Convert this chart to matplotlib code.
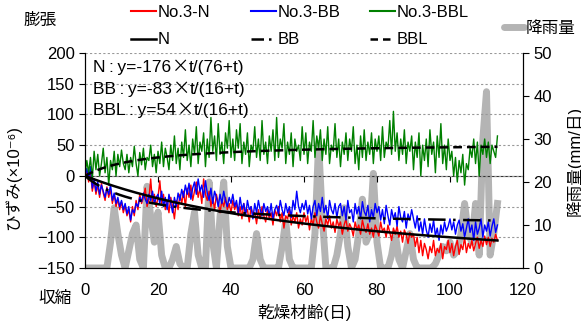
import numpy as np
import matplotlib
matplotlib.use("Agg")
import matplotlib.pyplot as plt
from matplotlib.lines import Line2D

plt.rcParams['font.family'] = ['Liberation Sans', 'Noto Sans CJK JP', 'DejaVu Sans']
plt.rcParams['font.size'] = 12

# measured strain, every half day from day 0 to day 113
step = 0.5
bbl = [0, 25, 5, 30, -5, 40, 10, 35, 0, 20, 45, 5, 30, -15, 25, 10, 40, 0, 35, 15,
       42, 20, 10, 35, 5, 30, 15, 48, 20, 0, 38, 18, 45, 10, 30, 25, 50, 15, 35, 5,
       40, 20, 55, 15, 45, 30, 10, 50, 25, 65, 20, 45, 10, 55, 30, 75, 25, 50, 15, 60,
       35, 80, 20, 55, 40, 70, 15, 60, 30, 95, 40, 65, 25, 85, 35, 55, 20, 70, 45, 90,
       30, 60, 25, 75, 45, 85, 20, 55, 35, 70, 15, 50, 40, 80, 30, 60, 25, 90, 35, 55,
       20, 65, 40, 75, 25, 95, 30, 60, 45, 85, 20, 55, 35, 70, 15, 60, 40, 50, 25, 80,
       35, 70, 20, 55, 40, 90, 30, 65, 45, 75, 25, 60, 35, 80, 20, 50, 40, 85, 30, 60,
       15, 55, 35, 70, 25, 60, 40, 80, 20, 50, 10, 65, 30, 75, 25, 55, 35, 70, 20, 60,
       40, 65, 25, 80, 30, 55, 45, 90, 35, 105, 40, 70, 25, 60, 35, 75, 20, 55, 40, 65,
       10, 55, 30, 70, 0, 50, 25, 60, 15, 75, 35, 55, 5, 65, 30, 85, 20, 50, 10, 60,
       25, 40, 0, 30, -10, 25, 5, 35, -15, 20, 10, 45, 30, 60, 20, 55, 0, 50, 35, 60,
       30, 55, 20, 50, 40, 30, 65]
n_data = [0, 8, -10, 5, -25, -8, -30, -15, -35, -12, -28, -40, -18, -35, -22, -45, -30, -50, -38, -55,
          -42, -60, -48, -65, -55, -75, -50, -65, -40, -55, -30, -45, -35, -20, -50, -38, -5, -45, -30, -50,
          -35, -8, -45, -30, -55, -40, -60, -35, -50, -70, -40, -55, -30, -45, -25, -50, -20, -35, -15, -40,
          -25, -10, -35, -20, -45, -5, -30, -40, -25, -50, -35, -55, -30, -45, -60, -40, -50, -35, -55, -45,
          -60, -40, -55, -45, -65, -50, -70, -45, -60, -55, -75, -50, -65, -60, -78, -55, -70, -50, -65, -75,
          -55, -70, -60, -80, -55, -65, -50, -75, -60, -85, -65, -70, -55, -80, -65, -75, -60, -85, -70, -80,
          -60, -75, -65, -88, -70, -80, -60, -75, -85, -65, -78, -90, -70, -80, -65, -85, -75, -92, -70, -82,
          -75, -95, -80, -70, -90, -78, -85, -98, -75, -88, -80, -95, -72, -85, -92, -78, -95, -85, -100, -80,
          -88, -98, -75, -90, -85, -100, -80, -92, -105, -85, -95, -82, -100, -90, -108, -88, -96, -110, -92, -100,
          -95, -115, -100, -125, -105, -130, -110, -120, -135, -115, -125, -105, -130, -118, -125, -110, -135, -115, -120, -105,
          -125, -110, -130, -115, -105, -128, -112, -120, -100, -125, -110, -118, -105, -122, -110, -100, -118, -105, -115, -98,
          -112, -100, -115, -102, -108, -95, -105]
bb = [0, 12, -5, 15, -20, -5, -25, -10, -30, -15, -25, -35, -20, -30, -15, -40, -28, -45, -35, -50,
      -40, -55, -45, -62, -50, -72, -55, -60, -45, -50, -35, -42, -28, -38, -45, -30, -40, -25, -45, -35,
      -30, -45, -25, -50, -35, -55, -30, -45, -60, -35, -50, -28, -40, -22, -35, -15, -30, -12, -38, -20,
      -10, -30, -5, -25, -15, -35, -8, -28, -40, -20, -45, -25, -35, -50, -30, -45, -25, -40, -50, -35,
      -45, -30, -50, -40, -60, -35, -55, -45, -65, -40, -55, -50, -70, -45, -60, -40, -55, -65, -45, -58,
      -50, -65, -45, -70, -55, -48, -62, -40, -55, -65, -45, -60, -50, -68, -40, -55, -25, -50, -60, -45,
      -55, -40, -62, -48, -70, -50, -40, -65, -45, -58, -35, -60, -48, -70, -40, -55, -62, -45, -68, -50,
      -45, -65, -50, -72, -40, -60, -55, -75, -45, -62, -50, -70, -42, -58, -65, -48, -75, -55, -68, -45,
      -60, -50, -72, -55, -78, -48, -65, -80, -55, -70, -60, -82, -50, -68, -75, -58, -85, -62, -72, -55,
      -70, -85, -65, -90, -75, -95, -70, -88, -100, -78, -92, -72, -98, -85, -105, -80, -95, -75, -90, -82,
      -70, -88, -75, -95, -80, -72, -90, -78, -100, -85, -70, -92, -80, -105, -75, -95, -85, -70, -100, -80,
      -90, -75, -98, -82, -70, -92, -80]

# daily rainfall (mm/day), day 0 .. 113
rain = [0, 0, 0, 0, 0, 0, 0, 6, 14, 8, 3, 0, 4, 8, 10, 2, 0, 19, 12, 6,
        13, 3, 0, 0, 2, 5, 1, 0, 0, 8, 13, 3, 0, 0, 20, 6, 0, 12, 20, 5,
        0, 0, 0, 0, 0, 0, 2, 8, 2, 0, 0, 0, 0, 0, 5, 11, 2, 0, 0, 0,
        0, 0, 0, 8, 29, 12, 0, 0, 0, 3, 8, 14, 5, 0, 2, 8, 16, 6, 8, 22,
        6, 0, 0, 0, 3, 8, 2, 0, 4, 8, 2, 0, 0, 0, 0, 0, 1, 3, 5, 4,
        6, 3, 4, 8, 15, 8, 6, 15, 3, 30, 41, 3, 8, 15]

# fitted curves y = a*t/(b+t)
fits = {"N": (-176, 76), "BB": (-83, 16), "BBL": (54, 16)}

t = np.arange(len(bbl)) * step
days = np.arange(len(rain))
tf = np.linspace(0, 113, 300)

fig = plt.figure(figsize=(5.81, 3.29), dpi=100)
ax = fig.add_axes([85/581, 1-268/329, 438/581, 215/329])
ax2 = ax.twinx()
ax.set_zorder(ax2.get_zorder() + 1)
ax.patch.set_visible(False)

# rainfall behind
ax2.plot(days, rain, color='#b4b4b4', lw=5, solid_joinstyle='round', zorder=1)
ax2.set_ylim(0, 50)
ax2.set_yticks(range(0, 51, 10))
ax2.tick_params(axis='y', direction='out', length=4.5, pad=3)
ax2.set_ylabel("降雨量(mm/日)")
ax2.yaxis.set_label_coords(1.097, 0.5)
ax2.spines['top'].set_visible(False)

ax.plot(t, n_data, color='red', lw=1)
ax.plot(t, bb, color='blue', lw=1)
ax.plot(t, bbl, color='green', lw=1)

a, b = fits["N"]
ax.plot(tf, a*tf/(b+tf), color='black', lw=1.8)
a, b = fits["BB"]
ax.plot(tf, a*tf/(b+tf), color='black', lw=1.8, dashes=(7, 3, 1, 3))
a, b = fits["BBL"]
ax.plot(tf, a*tf/(b+tf), color='black', lw=1.8, dashes=(3.5, 2))

ax.set_xlim(0, 120)
ax.set_ylim(-150, 200)
ax.set_xticks(range(0, 121, 20))
ax.set_yticks(range(-150, 201, 50))
ax.tick_params(axis='x', length=0, pad=11)
ax.tick_params(axis='y', direction='out', length=4.5, pad=3)
ax.spines['top'].set_visible(False)
ax.yaxis.grid(True, linestyle=(0, (2, 2)), color='#999999', lw=0.8)
ax.set_axisbelow(True)

zero = ax.secondary_xaxis(150/350)
zero.set_xticks(range(20, 101, 20))
zero.tick_params(direction='out', length=4, labelbottom=False)
zero.spines['bottom'].set_color('#333333')

ax.set_ylabel("ひずみ(×10⁻⁶)")
ax.yaxis.set_label_coords(-0.145, 0.42)
ax.set_xlabel("乾燥材齢(日)", labelpad=4)

# equations, the "×" in the Japanese font (wide)
renderer = fig.canvas.get_renderer()


def equation(y, left, right):
    x0 = 2.2
    t1 = ax.text(x0, y, left, va='baseline', ha='left', fontsize=12.5)
    w1 = t1.get_window_extent(renderer).width * 72 / fig.dpi
    t2 = ax.annotate("×", (x0, y), xytext=(w1 + 0.5, 0), textcoords='offset points',
                     va='baseline', ha='left', fontsize=12.5, family=['Noto Sans CJK JP'])
    w2 = t2.get_window_extent(renderer).width * 72 / fig.dpi
    ax.annotate(right, (x0, y), xytext=(w1 + w2 + 0.5, 0), textcoords='offset points',
                va='baseline', ha='left', fontsize=12.5)


equation(169, "N\u2009:\u2009y=-176", "t/(76+t)")
equation(134, "BB\u2009:\u2009y=-83", "t/(16+t)")
equation(98.5, "BBL\u2009:\u2009y=54", "t/(16+t)")

fig.text(40/581, 1-20/329, "膨張", ha='center', va='center')
fig.text(55/581, 1-298/329, "収縮", ha='center', va='center')

# legends: three columns of two rows
cols = [
    ([Line2D([], [], color='red', lw=1.5), Line2D([], [], color='black', lw=1.8)], ["No.3-N", "N"], 131),
    ([Line2D([], [], color='blue', lw=1.5), Line2D([], [], color='black', lw=1.8, dashes=(5, 2, 1, 2))], ["No.3-BB", "BB"], 251),
    ([Line2D([], [], color='green', lw=1.5), Line2D([], [], color='black', lw=1.8, dashes=(3, 2))], ["No.3-BBL", "BBL"], 370),
]
for hs, ls, x0 in cols:
    fig.legend(hs, ls, loc='upper left', bbox_to_anchor=(x0/581, 1-5/329),
               frameon=False, handlelength=1.5, handletextpad=0.1,
               borderpad=0, borderaxespad=0, labelspacing=0.75)
fig.legend([Line2D([], [], color='#b4b4b4', lw=5, solid_capstyle='round')], ["降雨量"],
           loc='upper left', bbox_to_anchor=(504/581, 1-21/329), frameon=False,
           handlelength=1.2, handletextpad=0.1, borderpad=0, borderaxespad=0)

fig.savefig("out.png", dpi=100)
